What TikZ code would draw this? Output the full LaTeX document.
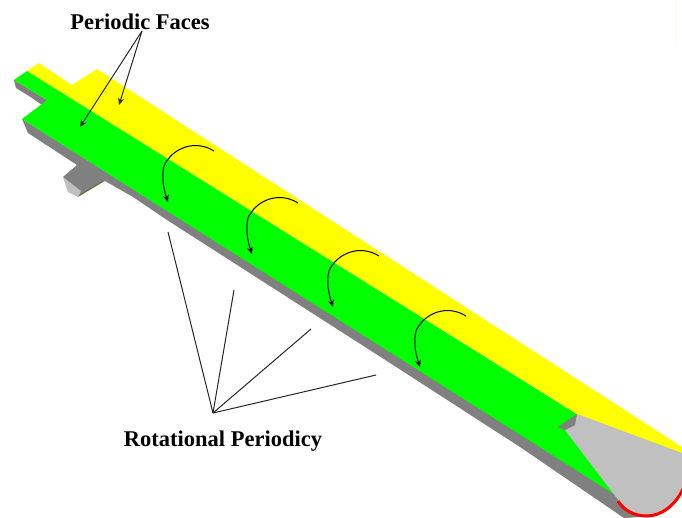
\documentclass[tikz,border=0pt]{standalone}
\usepackage{fontspec}
\setmainfont{Liberation Serif}
\usepackage{xcolor}
\usetikzlibrary{arrows.meta}
\definecolor{facegreen}{RGB}{0,255,0}
\definecolor{faceyellow}{RGB}{255,255,0}
\definecolor{sidegray}{RGB}{128,128,128}
\definecolor{capgray}{RGB}{192,192,192}
\tikzset{
  lbl/.style={font=\fontsize{22.5}{24}\selectfont\bfseries, inner sep=0pt},
  ptr/.style={-{Stealth[length=7pt,width=6pt]}, line width=1pt, black!85},
  turn/.style={-{Stealth[length=7pt,width=6pt]}, line width=1pt, black},
  lead/.style={line width=1pt, black!85},
  body/.style={draw=none, fill=#1}
}
\begin{document}
\begin{tikzpicture}[x=1pt,y=-1pt]
  \useasboundingbox (0,0) rectangle (682,517);
  \clip (0,0) rectangle (682,517);
  \draw[black!6!yellow!6!white, line width=2pt] (676,0) -- (676,43);
  % shaft sides and faces
  \fill[body=sidegray] (14,80) -- (16,88) -- (29,96) -- (42,105) -- (47,100) -- cycle;
  \fill[body=sidegray] (22,119) -- (28,133) -- (77,165) -- (133,197) -- (167,220) -- (390,363) -- (520,447) -- (624,518) -- (640,517) -- (620,497) -- cycle;
  \fill[body=sidegray] (63,177) -- (77,165) -- (110,178) -- (78,197) -- cycle;
  \fill[body=capgray] (63,177) -- (68,192) -- (78,197) -- (81,191) -- (72,184) -- cycle;
  \draw[olive!70!black, line width=0.6pt] (80,195) -- (103,181);
  \fill[body=faceyellow] (39,63) -- (72,85) -- (97,69) -- (682,447) -- (682,454) -- (577,414) -- (27,71) -- cycle;
  \fill[body=facegreen] (14,80) -- (27,71) -- (578,415) -- (565,430) -- (620,498) -- (22,119) -- (42,104) -- (47,100) -- cycle;
  \fill[body=capgray] (577,414) -- (682,453) -- (682,490) -- (667,510) -- (647,516) -- (630,513) -- (619,501) -- (565,430) -- cycle;
  \fill[body=sidegray] (558,427) -- (577,414) -- (575,425) -- (565,430) -- cycle;
  \draw[red, line width=3pt] (618,501) .. controls (626,514) and (640,516) .. (647,516) .. controls (662,516) and (676,504) .. (683,489);
  % labels
  \node[lbl] (faces) at (140,22) {Periodic Faces};
  \node[lbl] (rot) at (223,441) {Rotational Periodicy};
  % named ends
  \coordinate (fa) at (142,31);
  \coordinate (fg) at (80,127);
  \coordinate (fy) at (119,105);
  \coordinate (hub) at (213,413);
  \draw[ptr] (fa) -- (fg);
  \draw[ptr] (fa) -- (fy);
  \foreach \x/\y in {168/232, 234/290, 311/329, 376/375}
    \draw[lead] (hub) -- (\x,\y);
  \foreach \x/\y in {0/0, 84/52, 165/105, 252/165}
    \draw[turn] (214+\x,151+\y) .. controls (195+\x,139+\y) and (172+\x,148+\y) .. (164+\x,166+\y) .. controls (161+\x,177+\y) and (164+\x,190+\y) .. (168+\x,202+\y);
\end{tikzpicture}
\end{document}
